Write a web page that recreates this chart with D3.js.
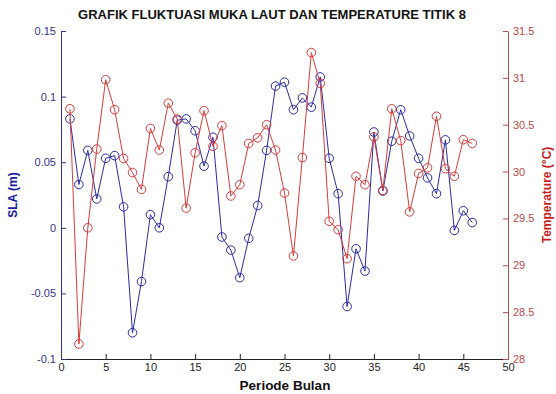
<!DOCTYPE html>
<html>
<head>
<meta charset="utf-8">
<script src="https://cdn.jsdelivr.net/npm/d3@7"></script>
<style>
  body { margin: 0; background: #fff; }
  svg { font-family: "Liberation Sans", Arial, sans-serif; }
</style>
</head>
<body>
<div id="chart"></div>
<script>
// Data
const bulan = d3.range(1, 47);
const sla = [0.083, 0.033, 0.059, 0.022, 0.053, 0.055, 0.016, -0.080, -0.041, 0.010,
  0.000, 0.039, 0.082, 0.083, 0.074, 0.047, 0.069, -0.007, -0.017, -0.038,
  -0.008, 0.017, 0.059, 0.108, 0.111, 0.090, 0.099, 0.092, 0.115, 0.053,
  0.026, -0.060, -0.016, -0.033, 0.073, 0.028, 0.066, 0.090, 0.070, 0.053,
  0.038, 0.026, 0.067, -0.002, 0.013, 0.004];
const temp = [30.67, 28.16, 29.40, 30.24, 30.98, 30.66, 30.14, 29.99, 29.81, 30.46,
  30.23, 30.73, 30.56, 29.61, 30.20, 30.65, 30.27, 30.49, 29.74, 29.86,
  30.30, 30.36, 30.50, 30.23, 29.77, 29.10, 30.15, 31.27, 30.94, 29.47,
  29.38, 29.07, 29.95, 29.86, 30.37, 29.80, 30.67, 30.33, 29.57, 29.98,
  30.04, 30.59, 30.03, 29.95, 30.34, 30.30];
const xTicks = [0, 5, 10, 15, 20, 25, 30, 35, 40, 45, 50];
const slaTicks = [-0.1, -0.05, 0, 0.05, 0.1, 0.15];
const tempTicks = [28, 28.5, 29, 29.5, 30, 30.5, 31, 31.5];

const W = 556, H = 394;
const mLeft = 61, mRight = 508, mTop = 31, mBottom = 359;
const blue = "#2a2aa6", red = "#d83a3a";
const blueAxis = "#33338c", redAxis = "#b84a4a";

const svg = d3.select("#chart").append("svg")
  .attr("width", W).attr("height", H);

const x = d3.scaleLinear().domain([0, 50]).range([mLeft, mRight]);
const yL = d3.scaleLinear().domain([-0.1, 0.15]).range([mBottom, mTop]);
const yR = d3.scaleLinear().domain([28, 31.5]).range([mBottom, mTop]);

// axes (ticks inward like MATLAB)
const gx = svg.append("g").attr("transform", `translate(0,${mBottom})`)
  .call(d3.axisBottom(x).tickValues(xTicks).tickSizeInner(-5).tickSizeOuter(0).tickPadding(4));
gx.selectAll("path, line").attr("stroke", "#222");
gx.selectAll("text").attr("fill", "#222").attr("font-size", 11);

const gl = svg.append("g").attr("transform", `translate(${mLeft},0)`)
  .call(d3.axisLeft(yL).tickValues(slaTicks).tickFormat(d => d === 0 ? "0" : String(d))
    .tickSizeInner(-5).tickSizeOuter(0).tickPadding(5));
gl.selectAll("path, line").attr("stroke", blueAxis);
gl.selectAll("text").attr("fill", blueAxis).attr("font-size", 11);

const gr = svg.append("g").attr("transform", `translate(${mRight},0)`)
  .call(d3.axisRight(yR).tickValues(tempTicks).tickFormat(d => String(d))
    .tickSizeInner(-5).tickSizeOuter(0).tickPadding(5));
gr.selectAll("path, line").attr("stroke", redAxis);
gr.selectAll("text").attr("fill", redAxis).attr("font-size", 11);

// series
const slaPts = bulan.map((b, i) => [b, sla[i]]);
const tempPts = bulan.map((b, i) => [b, temp[i]]);

svg.append("path").datum(slaPts)
  .attr("fill", "none").attr("stroke", blue).attr("stroke-width", 1)
  .attr("d", d3.line().x(d => x(d[0])).y(d => yL(d[1])));
svg.selectAll("circle.sla").data(slaPts).enter().append("circle")
  .attr("class", "sla")
  .attr("cx", d => x(d[0])).attr("cy", d => yL(d[1])).attr("r", 4.3)
  .attr("fill", "none").attr("stroke", blue).attr("stroke-width", 1);

svg.append("path").datum(tempPts)
  .attr("fill", "none").attr("stroke", red).attr("stroke-width", 1)
  .attr("d", d3.line().x(d => x(d[0])).y(d => yR(d[1])));
svg.selectAll("circle.temp").data(tempPts).enter().append("circle")
  .attr("class", "temp")
  .attr("cx", d => x(d[0])).attr("cy", d => yR(d[1])).attr("r", 4.3)
  .attr("fill", "none").attr("stroke", red).attr("stroke-width", 1);

// labels
svg.append("text").attr("x", 272).attr("y", 19)
  .attr("text-anchor", "middle").attr("font-weight", "bold").attr("font-size", 13)
  .attr("fill", "#111")
  .text("GRAFIK FLUKTUASI MUKA LAUT DAN TEMPERATURE TITIK 8");

svg.append("text").attr("x", 285).attr("y", 390)
  .attr("text-anchor", "middle").attr("font-weight", "bold").attr("font-size", 13.5)
  .attr("fill", "#111").text("Periode Bulan");

svg.append("text").attr("transform", `translate(17,${(mTop + mBottom) / 2}) rotate(-90)`)
  .attr("text-anchor", "middle").attr("font-weight", "bold").attr("font-size", 12)
  .attr("fill", "#1a1aa0").text("SLA (m)");

svg.append("text").attr("transform", `translate(551,${(mTop + mBottom) / 2}) rotate(-90)`)
  .attr("text-anchor", "middle").attr("font-weight", "bold").attr("font-size", 12)
  .attr("fill", "#c81e1e").text("Temperature (°C)");
</script>
</body>
</html>
